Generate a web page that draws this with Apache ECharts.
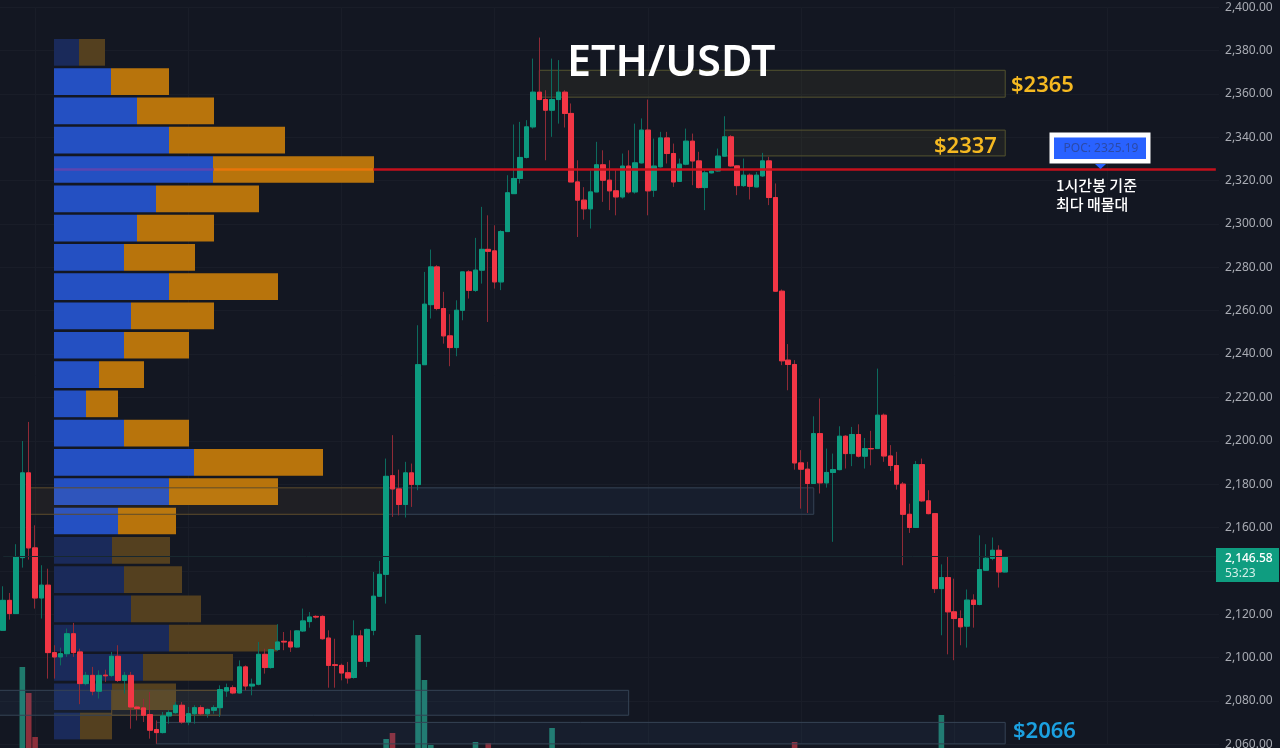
<!DOCTYPE html>
<html>
<head>
<meta charset="utf-8">
<style>html,body{margin:0;padding:0;background:#131722}#main{width:1280px;height:748px}</style>
<script src="https://cdn.jsdelivr.net/npm/echarts@6/dist/echarts.min.js"></script>
</head>
<body>
<div id="main"></div>
<script>
// one hour candles
var open = [
2112.6,2126.4,2120.3,2146.1,2185.2,2150.6,2127.5,2133.4,2102.3,2100.3,
2101.8,2111,2102.6,2088,2091.8,2084.5,2091.9,2091.8,2100.6,2089.5,
2091.8,2077.2,2076.8,2073.7,2066.8,2065.4,2073.1,2074.6,2078,2070.3,
2074.1,2076.9,2074.1,2075.7,2076.9,2084.6,2086.1,2083.7,2095.7,2086.9,
2087.7,2101.5,2095.4,2103.7,2107.5,2107.2,2104.9,2112.3,2116.6,2119,
2119,2109,2096.7,2096.4,2093,2090.8,2110,2098.3,2112.6,2128.3,
2138.4,2183.9,2177.8,2170.6,2185.2,2179.8,2235.1,2262.8,2280.2,2261,
2248.4,2243,2260.2,2277.9,2269.4,2278.7,2288.3,2287.6,2273.3,2296.5,
2314,2321,2330.7,2344.8,2360.8,2357.4,2352.5,2357.4,2360.8,2351,
2319.4,2311,2307,2314.8,2327.3,2320.2,2315.3,2312.5,2326.7,2314.8,
2328.2,2343.3,2315.6,2326.4,2339.7,2332.5,2319.7,2327.6,2338.2,2329.1,
2316.8,2323.6,2324.5,2331.3,2340.2,2326.8,2317.7,2322.5,2317.1,2322.2,
2329.1,2312.2,2269,2237.2,2235.2,2189.8,2186.9,2180.3,2203.3,2180.6,
2185.4,2186.7,2202.1,2194.1,2202.9,2192.9,2196.4,2196.4,2211.8,2193,
2188.6,2180,2166.1,2160,2189,2172.3,2166.4,2131.8,2136.9,2121.1,
2118,2114.5,2126.5,2124.5,2140.3,2145.8,2149.5,2139.5];
var close = [
2126.4,2120.3,2146.4,2185.2,2150.6,2127.5,2133.4,2102.3,2100.3,2101.8,
2111,2102.3,2088,2091.8,2084.5,2091.8,2091.6,2100.6,2089.5,2091.8,
2077.2,2076.5,2073.4,2066.5,2065.4,2073.1,2074.6,2078,2070.3,2074.1,
2076.9,2074.1,2076.1,2076.9,2085.2,2086.1,2083.7,2095.7,2086.9,2087.7,
2101.5,2095.4,2103.7,2107.2,2107.2,2104.9,2112.3,2116.9,2118.7,2118.7,
2108.7,2096.4,2096.4,2092.9,2090.6,2110,2098.3,2113,2128.3,2138.4,
2183.6,2177.8,2170.6,2185.2,2179.9,2235.1,2263,2280.2,2261,2248.4,
2243,2260.2,2277.9,2269.4,2278.7,2288.3,2287.4,2273.3,2296.5,2314.4,
2321,2330.7,2344.8,2360.8,2357.4,2352.5,2357.4,2360.8,2351,2319.4,
2311,2307,2314.8,2327.3,2320.2,2315.3,2312.5,2326.7,2314.8,2328.2,
2343.3,2315.3,2326.7,2339.7,2332.5,2319.4,2327.6,2338.2,2329.1,2316.8,
2323.6,2324.4,2331.3,2340.2,2326.8,2317.7,2322.5,2317.4,2322.5,2329.1,
2312.2,2269,2236.9,2235.2,2189.8,2186.9,2180.3,2203.3,2180.6,2185.4,
2186.7,2202.1,2194.1,2202.9,2192.9,2196.4,2196.3,2211.8,2193,2188.6,
2180,2166.1,2160,2189,2172.3,2166.4,2131.8,2136.9,2121.1,2118,
2114.2,2126.5,2124.5,2140.6,2145.8,2149.5,2139.5,2146.58];
var low = [
2112.6,2117.5,2120.3,2141.5,2145.2,2122.6,2118,2090.3,2090.3,2096.4,
2100.3,2100.3,2078.5,2087.2,2082.6,2081.1,2088.8,2091,2088.8,2083.4,
2067.2,2071,2070.3,2062.6,2060.3,2065,2069.5,2074.1,2069.5,2068.8,
2069.5,2073.4,2072.3,2074.1,2072.6,2081.9,2083.1,2083.4,2084.9,2082.6,
2087.2,2092.6,2094.9,2103,2103.4,2102.6,2104.6,2111.8,2113.8,2118,
2108.3,2086.1,2086.1,2089.5,2088,2090.3,2098,2095.7,2110.3,2128,
2124.9,2164.9,2165.6,2164.6,2169.5,2177.2,2235.1,2256.4,2260.2,2244.8,
2234.4,2239,2255.6,2265.6,2268.7,2272.5,2254.8,2270.2,2269.5,2296.4,
2314,2318.7,2330.2,2344,2357.1,2329.4,2340.2,2346.3,2344.5,2319.4,
2294,2302,2297.9,2314.8,2310.2,2306.4,2304,2311.7,2314,2314,
2327.9,2304,2312.5,2326,2327.9,2317.1,2319.4,2327.1,2317.9,2316.4,
2306.4,2323.3,2324.2,2331,2326.4,2313.3,2317.1,2311.3,2317,2321.7,
2308.7,2268.7,2234.9,2223.3,2186.7,2168.7,2166.7,2180.3,2175.7,2178.4,
2153.4,2186.4,2187.2,2188.3,2192.3,2187.2,2188.7,2196.4,2190.3,2186.1,
2177.5,2142.6,2157.5,2160,2171.8,2166.1,2129.8,2110.3,2101.5,2098.8,
2105.7,2104.6,2113.8,2124.1,2140,2144.9,2132.3,2139.3];
var high = [
2132.9,2129.8,2152.3,2199.9,2208.7,2161,2142.6,2141,2105.7,2104.6,
2113.4,2116,2104.1,2093.4,2095.7,2094.1,2094.4,2102.6,2105.7,2093.4,
2093.4,2078,2081,2084.1,2071,2074.9,2075.7,2079.5,2079.5,2077.2,
2078,2078,2076.5,2078,2087.2,2088,2087.2,2098.7,2096.4,2090.3,
2107.2,2104.1,2104.1,2115.4,2111.8,2112.6,2112.6,2122.6,2121,2119.5,
2119.5,2112.6,2108.7,2097.2,2098,2117.2,2112.6,2113.4,2139.5,2144.6,
2191.8,2202.6,2186.7,2190.3,2189.5,2253.3,2277.9,2288.2,2281,2268.7,
2258.4,2264.8,2277.9,2278.7,2293.6,2307.9,2304,2299.4,2297.1,2322.5,
2345.9,2347.1,2347.9,2376.3,2386,2361.7,2376.3,2375.6,2361.7,2355.6,
2329.4,2317,2324.8,2337.9,2334,2329.4,2324.8,2332.5,2334,2346.3,
2348.7,2357.4,2339.4,2342.5,2342.5,2337.1,2330.2,2344,2341.7,2333.3,
2324.8,2324.8,2334.8,2349.7,2341,2327.1,2330.2,2323.3,2324,2332.8,
2331,2318.7,2269.8,2244.6,2237.2,2195.7,2190.3,2211.3,2219.5,2196.4,
2194.1,2206.7,2202.6,2206.4,2207.6,2201.3,2204.6,2233.3,2212.6,2198,
2194.9,2181,2171,2190.7,2191.8,2177.2,2166.4,2143,2146.7,2136.4,
2121.8,2131.4,2129.2,2156.4,2152.3,2155.4,2151.8,2146.8];

// volume bars that reach above the bottom edge
var volumeAt = [3,4,5,60,61,65,66,67,74,76,86,124,147];
var volumeVal = [81,55,11,9,15,113,68,3,6,5,20,6,33];

// volume profile rows, top to bottom
var profileBuy = [25,57,83,115,159,102,83,70,115,77,70,45,32,70,140,115,64,58,70,77,115,89,58,26];
var profileSell = [26,58,77,116,161,103,77,71,109,83,65,45,32,65,129,109,58,58,58,70,108,90,64,32];
var profileDim = [0,17,18,19,20,21,22,23];

// boxes drawn on the chart: first candle, last candle, top price, bottom price
var zoneFrom = [84,113,4,60,-1,17,24];
var zoneTo = [157,157,60,127,98,34,157];
var zoneTop = [2370.9,2343.3,2178.3,2178.3,2084.9,2084.9,2070.1];
var zoneBottom = [2358.5,2331.4,2166.1,2166.1,2073.4,2073.4,2060.2];
var zoneKind = ['yellow','yellow','orange','blue','blue','orange','blue'];

var pocPrice = 2325.19;
var lastPrice = 2146.58;
var countdown = '53:23';

var UP = '#0d9c80', DOWN = '#f23645';
var GRID = '#191d28';
var zoneStyle = {
    yellow: {color: 'rgba(255,235,59,0.05)', borderColor: '#54532f', borderWidth: 1},
    orange: {color: 'rgba(255,190,70,0.05)', borderColor: '#5e4c2c', borderWidth: 1},
    blue: {color: 'rgba(100,170,255,0.05)', borderColor: '#354355', borderWidth: 1}
};

// one empty slot left of the first candle so a box can run off the left edge
var LEAD = 1;
var categories = [];
for (var i = 0; i < 192; i++) categories.push(String(i));

var wickData = [['-','-','-','-']], bodyData = [['-','-','-','-']], volumeData = [];
for (var i = 0; i < open.length; i++) {
    wickData.push([open[i], close[i], low[i], high[i]]);
    bodyData.push([open[i], close[i], Math.min(open[i], close[i]), Math.max(open[i], close[i])]);
}
for (var i = 0; i < volumeAt.length; i++) {
    var k = volumeAt[i];
    volumeData.push({
        value: [k + LEAD, volumeVal[i]],
        itemStyle: {color: close[k] >= open[k] ? '#1f7a6c' : '#8c2f3b'}
    });
}

var profileRows = profileBuy.map(function (v, n) { return String(n); });
function profileBar(list, bright, dim) {
    return list.map(function (v, n) {
        return {value: v, itemStyle: {color: profileDim.indexOf(n) >= 0 ? dim : bright}};
    });
}

var zoneAreas = zoneFrom.map(function (from, n) {
    return [
        {coord: [from + LEAD, zoneTop[n]], itemStyle: zoneStyle[zoneKind[n]]},
        {coord: [zoneTo[n] + LEAD, zoneBottom[n]]}
    ];
});

function money(v) { return v.toFixed(2).replace(/\B(?=(\d{3})+\.)/g, ','); }

var labelFont = '"Noto Sans", sans-serif';
var krFont = '"Noto Sans CJK KR", sans-serif';

var myChart = echarts.init(document.getElementById('main'));

var option = {
    animation: false,
    backgroundColor: '#131722',
    grid: [
        {left: -6.38, top: 7.2, width: 1225.4, height: 737.1, outerBoundsMode: 'none'},
        {left: -6.38, top: 600, width: 1225.4, height: 148, outerBoundsMode: 'none'},
        {left: 54, top: 37.7, width: 320, height: 703, outerBoundsMode: 'none'}
    ],
    xAxis: [
        {
            type: 'category', gridIndex: 0, data: categories, boundaryGap: true,
            axisLine: {show: false}, axisTick: {show: false}, axisLabel: {show: false},
            splitLine: {
                show: true, alignWithLabel: true,
                interval: function (n) { return (n - 6) % 24 === 0; },
                lineStyle: {color: GRID, width: 1}
            }
        },
        {
            type: 'category', gridIndex: 1, data: categories, boundaryGap: true,
            axisLine: {show: false}, axisTick: {show: false}, axisLabel: {show: false}, splitLine: {show: false}
        },
        {type: 'value', gridIndex: 2, min: 0, max: 320, show: false}
    ],
    yAxis: [
        {
            type: 'value', gridIndex: 0, position: 'right', min: 2060, max: 2400, interval: 20,
            axisLine: {show: false}, axisTick: {show: false},
            splitLine: {show: true, lineStyle: {color: GRID, width: 1}},
            axisLabel: {
                show: true, margin: 6, color: '#a9acb4', fontSize: 12, fontFamily: labelFont,
                padding: [2, 0, 0, 0],
                formatter: money
            }
        },
        {type: 'value', gridIndex: 1, min: 0, max: 148, show: false},
        {type: 'category', gridIndex: 2, data: profileRows, inverse: true, show: false}
    ],
    series: [
        {
            name: 'buy', type: 'bar', xAxisIndex: 2, yAxisIndex: 2, stack: 'profile', barWidth: 26.7, z: 1,
            data: profileBar(profileBuy, '#2450c2', '#1a2a5a')
        },
        {
            name: 'sell', type: 'bar', xAxisIndex: 2, yAxisIndex: 2, stack: 'profile', barWidth: 26.7, z: 1,
            data: profileBar(profileSell, '#b8740c', '#54401f')
        },
        {
            name: 'volume', type: 'bar', xAxisIndex: 1, yAxisIndex: 1, barWidth: 5.6, z: 1,
            data: volumeData
        },
        {
            name: 'zones', type: 'line', xAxisIndex: 0, yAxisIndex: 0, data: [], silent: true,
            markArea: {silent: true, z: 2, label: {show: false}, data: zoneAreas}
        },
        {
            name: 'wick', type: 'candlestick', xAxisIndex: 0, yAxisIndex: 0, barWidth: 5, z: 3, data: wickData,
            itemStyle: {color: 'transparent', color0: 'transparent', borderColor: '#0c6b5e', borderColor0: '#8f2a36', borderWidth: 1}
        },
        {
            name: 'body', type: 'candlestick', xAxisIndex: 0, yAxisIndex: 0, barWidth: 5, z: 4, data: bodyData,
            itemStyle: {color: UP, color0: DOWN, borderColor: UP, borderColor0: DOWN, borderWidth: 1}
        },
        {
            name: 'levels', type: 'line', xAxisIndex: 0, yAxisIndex: 0, data: [], silent: true,
            markLine: {
                silent: true, z: 6, symbol: 'none', label: {show: false}, animation: false,
                data: [
                    [{coord: [LEAD, lastPrice], lineStyle: {color: '#18282f', width: 1, type: 'solid'}}, {coord: [190 + LEAD, lastPrice]}],
                    [{coord: [8 + LEAD, pocPrice], lineStyle: {color: '#5c45b0', width: 2.5, type: 'solid'}}, {coord: [33 + LEAD, pocPrice]}],
                    [{coord: [33 + LEAD, pocPrice], lineStyle: {color: '#e8750a', width: 2.5, type: 'solid'}}, {coord: [58 + LEAD, pocPrice]}],
                    [{coord: [58 + LEAD, pocPrice], lineStyle: {color: '#c4111c', width: 2.5, type: 'solid'}}, {coord: [190 + LEAD, pocPrice]}]
                ]
            }
        }
    ],
    graphic: [
        {type: 'text', z: 20, x: 567, y: 64, style: {text: 'ETH/USDT', fill: '#ffffff', font: '600 43px ' + labelFont, textVerticalAlign: 'middle'}},
        {type: 'text', z: 20, x: 1011, y: 86, style: {text: '$2365', fill: '#f5b921', font: '600 22px ' + labelFont, textVerticalAlign: 'middle'}},
        {type: 'text', z: 20, x: 934, y: 147, style: {text: '$2337', fill: '#f5b921', font: '600 22px ' + labelFont, textVerticalAlign: 'middle'}},
        {type: 'text', z: 20, x: 1013, y: 732, style: {text: '$2066', fill: '#1ba0e0', font: '600 22px ' + labelFont, textVerticalAlign: 'middle'}},

        {type: 'rect', z: 20, shape: {x: 1049.5, y: 132.5, width: 101, height: 31}, style: {fill: '#ffffff'}},
        {type: 'rect', z: 21, shape: {x: 1054, y: 137.5, width: 92, height: 21.5}, style: {fill: '#2962ff'}},
        {type: 'polygon', z: 21, shape: {points: [[1095, 164], [1106, 164], [1100.5, 169]]}, style: {fill: '#2962ff'}},
        {type: 'text', z: 22, x: 1101, y: 149, style: {text: 'POC: 2325.19', fill: '#2b4aa8', font: '12px ' + labelFont, textAlign: 'center', textVerticalAlign: 'middle'}},
        {type: 'text', z: 20, x: 1056, y: 185.5, style: {text: '1시간봉 기준', fill: '#ffffff', font: '500 15px ' + krFont, textVerticalAlign: 'middle'}},
        {type: 'text', z: 20, x: 1056, y: 204, style: {text: '최다 매물대', fill: '#ffffff', font: '500 15px ' + krFont, textVerticalAlign: 'middle'}},

        {type: 'rect', z: 20, shape: {x: 1216, y: 548, width: 63, height: 34}, style: {fill: '#0f9d80'}},
        {type: 'text', z: 21, x: 1225, y: 559, style: {text: money(lastPrice), fill: '#ffffff', font: '500 12px ' + labelFont, textVerticalAlign: 'middle'}},
        {type: 'text', z: 21, x: 1225, y: 574, style: {text: countdown, fill: '#d3efe8', font: '12px ' + labelFont, textVerticalAlign: 'middle'}}
    ]
};

myChart.setOption(option);
</script>
</body>
</html>
